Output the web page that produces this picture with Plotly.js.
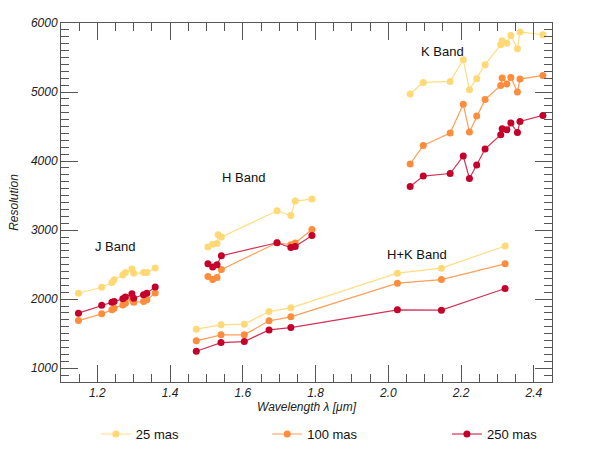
<!DOCTYPE html>
<html>
<head>
<meta charset="utf-8">
<script src="https://cdn.plot.ly/plotly-3.0.1.min.js"></script>
<style>
  html, body { margin: 0; padding: 0; background: #fff; }
  #chart { width: 600px; height: 450px; }
</style>
</head>
<body>
<div id="chart"></div>
<script>
// J band
const jWave = [1.148, 1.212, 1.240, 1.246, 1.270, 1.277, 1.295, 1.300, 1.327, 1.336, 1.359];
const j25 = [2085, 2172, 2240, 2280, 2350, 2385, 2435, 2375, 2385, 2385, 2450];
const j100 = [1690, 1787, 1845, 1869, 1917, 1942, 2005, 1955, 1966, 1990, 2090];
const j250 = [1797, 1910, 1955, 1966, 2005, 2030, 2080, 2014, 2065, 2085, 2175];

// H band (25 mas has one extra point)
const hWave25 = [1.504, 1.517, 1.529, 1.532, 1.541, 1.694, 1.732, 1.744, 1.790];
const h25 = [2754, 2797, 2806, 2932, 2899, 3280, 3212, 3420, 3449];
const hWave = [1.504, 1.517, 1.529, 1.541, 1.694, 1.732, 1.744, 1.790];
const h100 = [2328, 2284, 2313, 2429, 2817, 2788, 2812, 3009];
const h250 = [2512, 2464, 2497, 2628, 2817, 2748, 2762, 2922];

// H+K band
const hkWave = [1.472, 1.540, 1.604, 1.672, 1.732, 2.025, 2.146, 2.321];
const hk25 = [1565, 1628, 1638, 1820, 1874, 2377, 2449, 2770];
const hk100 = [1396, 1483, 1483, 1686, 1744, 2232, 2284, 2512];
const hk250 = [1246, 1371, 1386, 1555, 1588, 1845, 1841, 2154];

// K band
const kWave = [2.060, 2.096, 2.170, 2.206, 2.223, 2.243, 2.266, 2.309, 2.313, 2.326, 2.337, 2.355, 2.362, 2.425];
const k25 = [4971, 5139, 5154, 5468, 5033, 5193, 5396, 5686, 5743, 5706, 5820, 5628, 5870, 5830];
const k100 = [3957, 4226, 4406, 4822, 4420, 4652, 4893, 5096, 5203, 5116, 5212, 5000, 5188, 5241];
const k250 = [3632, 3783, 3820, 4072, 3748, 3942, 4174, 4381, 4468, 4454, 4551, 4414, 4574, 4661];

const seriesNames = ["25 mas", "100 mas", "250 mas"];
const seriesColors = ["#fed976", "#fd8d3c", "#c4002b"];
const lineColors = ["rgba(254,217,118,0.9)", "rgba(253,141,60,0.85)", "rgba(196,0,43,0.8)"];

const bandLabels = ["J Band", "H Band", "K Band", "H+K Band"];
const labelX = [1.249, 1.601, 2.150, 2.079];
const labelY = [2758, 3758, 5584, 2642];

// join bands with a gap so they are not connected
function joinBands(parts) {
  let out = [];
  parts.forEach((p, i) => {
    if (i > 0) out.push(null);
    out = out.concat(p);
  });
  return out;
}

const xs = [
  joinBands([jWave, hWave25, hkWave, kWave]),
  joinBands([jWave, hWave, hkWave, kWave]),
  joinBands([jWave, hWave, hkWave, kWave])
];
const ys = [
  joinBands([j25, h25, hk25, k25]),
  joinBands([j100, h100, hk100, k100]),
  joinBands([j250, h250, hk250, k250])
];

// one legend box per series so they can sit apart under the plot
const legendIds = ["legend", "legend2", "legend3"];
const legendX = [0.071, 0.42, 0.786];

const data = seriesNames.map((name, i) => ({
  x: xs[i],
  y: ys[i],
  name: name,
  legend: legendIds[i],
  type: "scatter",
  mode: "lines+markers",
  connectgaps: false,
  line: { color: lineColors[i], width: 1.2 },
  marker: { color: seriesColors[i], size: 7 }
}));

const tickFont = { family: "Liberation Sans, Arial, sans-serif", size: 12, color: "#222", style: "italic" };
const legendFont = { family: "Liberation Sans, Arial, sans-serif", size: 13, color: "#111" };

const layout = {
  width: 600,
  height: 450,
  margin: { l: 61, r: 48, t: 23, b: 68, autoexpand: false },
  paper_bgcolor: "#fff",
  plot_bgcolor: "#fff",
  showlegend: true,
  xaxis: {
    range: [1.1, 2.45],
    dtick: 0.2,
    tick0: 1.2,
    tickformat: ".1f",
    ticks: "inside",
    ticklen: 17,
    tickcolor: "#555",
    minor: { dtick: 0.05, ticks: "inside", ticklen: 8, tickcolor: "#555" },
    showgrid: false,
    zeroline: false,
    showline: true,
    linecolor: "#555",
    linewidth: 1,
    mirror: "allticks",
    tickfont: tickFont,
    title: { text: "Wavelength λ [μm]", font: tickFont, standoff: 3 }
  },
  yaxis: {
    range: [800, 6000],
    dtick: 1000,
    tick0: 1000,
    ticks: "inside",
    ticklen: 17,
    tickcolor: "#555",
    minor: { dtick: 100, ticks: "inside", ticklen: 8, tickcolor: "#555" },
    showgrid: false,
    zeroline: false,
    showline: true,
    linecolor: "#555",
    linewidth: 1,
    mirror: "allticks",
    tickfont: tickFont,
    title: { text: "Resolution", font: tickFont, standoff: 8 }
  },
  annotations: bandLabels.map((t, i) => ({
    x: labelX[i],
    y: labelY[i],
    text: t,
    showarrow: false,
    xanchor: "center",
    yanchor: "middle",
    font: { family: "Liberation Sans, Arial, sans-serif", size: 13, color: "#111" }
  }))
};

legendIds.forEach((id, i) => {
  layout[id] = {
    orientation: "h",
    x: legendX[i],
    xanchor: "left",
    y: -0.145,
    yanchor: "middle",
    bgcolor: "rgba(0,0,0,0)",
    font: legendFont
  };
});

Plotly.newPlot("chart", data, layout, { displayModeBar: false });
</script>
</body>
</html>
